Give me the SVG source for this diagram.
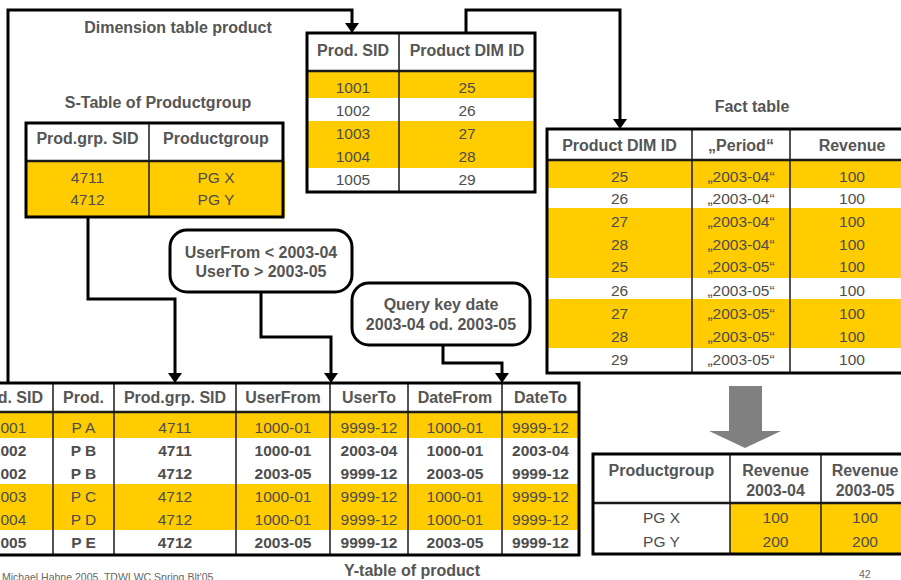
<svg xmlns="http://www.w3.org/2000/svg" width="901" height="580" viewBox="0 0 901 580">
  <defs>
    <style>
      text { font-family: "Liberation Sans", Arial, sans-serif; fill: #4d4d4d; text-anchor: middle; }
      .title { font-size: 16px; font-weight: bold; fill: #555555; }
      .hd { font-size: 16px; font-weight: bold; fill: #555555; dominant-baseline: central; }
      .c { font-size: 15.5px; dominant-baseline: central; }
      .b { font-size: 15.5px; font-weight: bold; dominant-baseline: central; }
      .call { font-size: 16px; font-weight: bold; fill: #555555; }
      .foot { font-size: 10.5px; fill: #666666; text-anchor: start; }
      .yel { fill: #ffcc00; }
      .frame { fill: none; stroke: #000; stroke-width: 3; }
      .div { stroke: #1a1a1a; stroke-width: 1.5; }
      .hline { stroke: #1a1a1a; stroke-width: 2.5; }
      .conn { fill: none; stroke: #000; stroke-width: 3; }
      .bubble { fill: #fff; stroke: #000; stroke-width: 3; }
    </style>
    <marker id="arrow" viewBox="0 -7 10 14" refX="6" refY="0" markerWidth="10" markerHeight="14" markerUnits="userSpaceOnUse" orient="auto">
      <path d="M0,-7 L10,0 L0,7 z" fill="#000"/>
    </marker>
  </defs>

  <rect width="901" height="580" fill="#fff"/>

  <!-- connectors -->
  <g id="connectors">
    <path class="conn" d="M8,383 V10 H352 V29" marker-end="url(#arrow)"/>
    <path class="conn" d="M466,33 V10 H620 V125" marker-end="url(#arrow)"/>
    <path class="conn" d="M88,217 V299 H175 V379" marker-end="url(#arrow)"/>
    <path class="conn" d="M261,292 V337 H331 V379" marker-end="url(#arrow)"/>
    <path class="conn" d="M443,345 V363 H502 V379" marker-end="url(#arrow)"/>
    <polygon points="729,386 762,386 762,431 781,431 745,448 709,431 729,431" fill="#808080"/>
  </g>

  <!-- dimension table product -->
  <g id="dim-product">
    <text class="title" x="178" y="33">Dimension table product</text>
    <rect x="307" y="33" width="228" height="159" fill="#fff"/>
    <rect class="yel" x="307" y="71" width="228" height="27"/>
    <rect class="yel" x="307" y="121" width="228" height="47"/>
    <line class="hline" x1="307" y1="71" x2="535" y2="71"/>
    <line class="div" x1="399" y1="33" x2="399" y2="192"/>
    <rect class="frame" x="307" y="33" width="228" height="159"/>
    <text class="hd" x="353" y="50">Prod. SID</text>
    <text class="hd" x="467" y="50">Product DIM ID</text>
    <text class="c" x="353" y="87">1001</text><text class="c" x="467" y="87">25</text>
    <text class="c" x="353" y="110">1002</text><text class="c" x="467" y="110">26</text>
    <text class="c" x="353" y="133">1003</text><text class="c" x="467" y="133">27</text>
    <text class="c" x="353" y="156">1004</text><text class="c" x="467" y="156">28</text>
    <text class="c" x="353" y="179">1005</text><text class="c" x="467" y="179">29</text>
  </g>

  <!-- S-table of product group -->
  <g id="s-productgroup">
    <text class="title" x="158" y="108">S-Table of Productgroup</text>
    <rect x="26" y="123" width="257" height="94" fill="#fff"/>
    <rect class="yel" x="26" y="161" width="259" height="56"/>
    <line class="hline" x1="26" y1="161" x2="283" y2="161"/>
    <line class="div" x1="149" y1="123" x2="149" y2="217"/>
    <rect class="frame" x="26" y="123" width="257" height="94"/>
    <text class="hd" x="87.5" y="138">Prod.grp. SID</text>
    <text class="hd" x="216" y="138">Productgroup</text>
    <text class="c" x="87.5" y="177">4711</text><text class="c" x="216" y="177">PG X</text>
    <text class="c" x="87.5" y="199">4712</text><text class="c" x="216" y="199">PG Y</text>
  </g>

  <!-- fact table -->
  <g id="fact-table">
    <text class="title" x="752" y="112">Fact table</text>
    <rect x="547" y="129" width="370" height="244" fill="#fff"/>
    <rect class="yel" x="547" y="160" width="370" height="28"/>
    <rect class="yel" x="547" y="208" width="370" height="70"/>
    <rect class="yel" x="547" y="299" width="370" height="49"/>
    <line class="hline" x1="547" y1="160" x2="917" y2="160"/>
    <line class="div" x1="692" y1="129" x2="692" y2="373"/>
    <line class="div" x1="790" y1="129" x2="790" y2="373"/>
    <rect class="frame" x="547" y="129" width="370" height="244"/>
    <text class="hd" x="619.5" y="145">Product DIM ID</text>
    <text class="hd" x="741" y="145">„Period“</text>
    <text class="hd" x="852" y="145">Revenue</text>
    <text class="c" x="619.5" y="176">25</text><text class="c" x="741" y="176">„2003-04“</text><text class="c" x="852" y="176">100</text>
    <text class="c" x="619.5" y="198">26</text><text class="c" x="741" y="198">„2003-04“</text><text class="c" x="852" y="198">100</text>
    <text class="c" x="619.5" y="221">27</text><text class="c" x="741" y="221">„2003-04“</text><text class="c" x="852" y="221">100</text>
    <text class="c" x="619.5" y="244">28</text><text class="c" x="741" y="244">„2003-04“</text><text class="c" x="852" y="244">100</text>
    <text class="c" x="619.5" y="266">25</text><text class="c" x="741" y="266">„2003-05“</text><text class="c" x="852" y="266">100</text>
    <text class="c" x="619.5" y="290">26</text><text class="c" x="741" y="290">„2003-05“</text><text class="c" x="852" y="290">100</text>
    <text class="c" x="619.5" y="313">27</text><text class="c" x="741" y="313">„2003-05“</text><text class="c" x="852" y="313">100</text>
    <text class="c" x="619.5" y="336">28</text><text class="c" x="741" y="336">„2003-05“</text><text class="c" x="852" y="336">100</text>
    <text class="c" x="619.5" y="359">29</text><text class="c" x="741" y="359">„2003-05“</text><text class="c" x="852" y="359">100</text>
  </g>

  <!-- condition callouts -->
  <g id="user-condition">
    <rect class="bubble" x="170" y="230" width="182" height="62" rx="17"/>
    <text class="call" x="261" y="258">UserFrom &lt; 2003-04</text>
    <text class="call" x="261" y="277">UserTo &gt; 2003-05</text>
  </g>
  <g id="query-key-date">
    <rect class="bubble" x="352" y="283" width="178" height="62" rx="17"/>
    <text class="call" x="441" y="310">Query key date</text>
    <text class="call" x="441" y="330">2003-04 od. 2003-05</text>
  </g>

  <!-- Y-table of product -->
  <g id="y-product">
    <rect x="-35" y="383" width="614" height="172" fill="#fff"/>
    <rect class="yel" x="-35" y="412" width="614" height="26"/>
    <rect class="yel" x="-35" y="484" width="614" height="46"/>
    <line class="hline" x1="-35" y1="412" x2="579" y2="412"/>
    <line class="div" x1="53" y1="383" x2="53" y2="555"/>
    <line class="div" x1="114" y1="383" x2="114" y2="555"/>
    <line class="div" x1="236" y1="383" x2="236" y2="555"/>
    <line class="div" x1="330" y1="383" x2="330" y2="555"/>
    <line class="div" x1="408" y1="383" x2="408" y2="555"/>
    <line class="div" x1="502" y1="383" x2="502" y2="555"/>
    <rect class="frame" x="-35" y="383" width="614" height="172"/>
    <text class="hd" x="7" y="397">Prod. SID</text>
    <text class="hd" x="83.5" y="397">Prod.</text>
    <text class="hd" x="175" y="397">Prod.grp. SID</text>
    <text class="hd" x="283" y="397">UserFrom</text>
    <text class="hd" x="369" y="397">UserTo</text>
    <text class="hd" x="455" y="397">DateFrom</text>
    <text class="hd" x="540.5" y="397">DateTo</text>

    <text class="c" x="9" y="427">1001</text><text class="c" x="83.5" y="427">P A</text><text class="c" x="175" y="427">4711</text><text class="c" x="283" y="427">1000-01</text><text class="c" x="369" y="427">9999-12</text><text class="c" x="455" y="427">1000-01</text><text class="c" x="540.5" y="427">9999-12</text>
    <text class="b" x="9" y="450">1002</text><text class="b" x="83.5" y="450">P B</text><text class="b" x="175" y="450">4711</text><text class="b" x="283" y="450">1000-01</text><text class="b" x="369" y="450">2003-04</text><text class="b" x="455" y="450">1000-01</text><text class="b" x="540.5" y="450">2003-04</text>
    <text class="b" x="9" y="473">1002</text><text class="b" x="83.5" y="473">P B</text><text class="b" x="175" y="473">4712</text><text class="b" x="283" y="473">2003-05</text><text class="b" x="369" y="473">9999-12</text><text class="b" x="455" y="473">2003-05</text><text class="b" x="540.5" y="473">9999-12</text>
    <text class="c" x="9" y="496">1003</text><text class="c" x="83.5" y="496">P C</text><text class="c" x="175" y="496">4712</text><text class="c" x="283" y="496">1000-01</text><text class="c" x="369" y="496">9999-12</text><text class="c" x="455" y="496">1000-01</text><text class="c" x="540.5" y="496">9999-12</text>
    <text class="c" x="9" y="519">1004</text><text class="c" x="83.5" y="519">P D</text><text class="c" x="175" y="519">4712</text><text class="c" x="283" y="519">1000-01</text><text class="c" x="369" y="519">9999-12</text><text class="c" x="455" y="519">1000-01</text><text class="c" x="540.5" y="519">9999-12</text>
    <text class="b" x="9" y="542">1005</text><text class="b" x="83.5" y="542">P E</text><text class="b" x="175" y="542">4712</text><text class="b" x="283" y="542">2003-05</text><text class="b" x="369" y="542">9999-12</text><text class="b" x="455" y="542">2003-05</text><text class="b" x="540.5" y="542">9999-12</text>
    <text class="title" x="412" y="576">Y-table of product</text>
  </g>

  <!-- result per product group -->
  <g id="result">
    <rect x="593" y="454" width="320" height="100" fill="#fff"/>
    <rect class="yel" x="730" y="503" width="183" height="51"/>
    <line class="hline" x1="593" y1="503" x2="913" y2="503"/>
    <line class="div" x1="730" y1="454" x2="730" y2="554"/>
    <line class="div" x1="821" y1="454" x2="821" y2="554"/>
    <rect class="frame" x="593" y="454" width="320" height="100"/>
    <text class="hd" x="661.5" y="470">Productgroup</text>
    <text class="hd" x="775.5" y="470">Revenue</text>
    <text class="hd" x="775.5" y="490">2003-04</text>
    <text class="hd" x="865" y="470">Revenue</text>
    <text class="hd" x="865" y="490">2003-05</text>
    <text class="c" x="661.5" y="517">PG X</text><text class="c" x="775.5" y="517">100</text><text class="c" x="865" y="517">100</text>
    <text class="c" x="661.5" y="541">PG Y</text><text class="c" x="775.5" y="541">200</text><text class="c" x="865" y="541">200</text>
  </g>

  <!-- footer -->
  <text class="foot" x="2" y="581">Michael Hahne 2005, TDWI WC Spring Blt'05</text>
  <text class="foot" x="859" y="578">42</text>
</svg>
